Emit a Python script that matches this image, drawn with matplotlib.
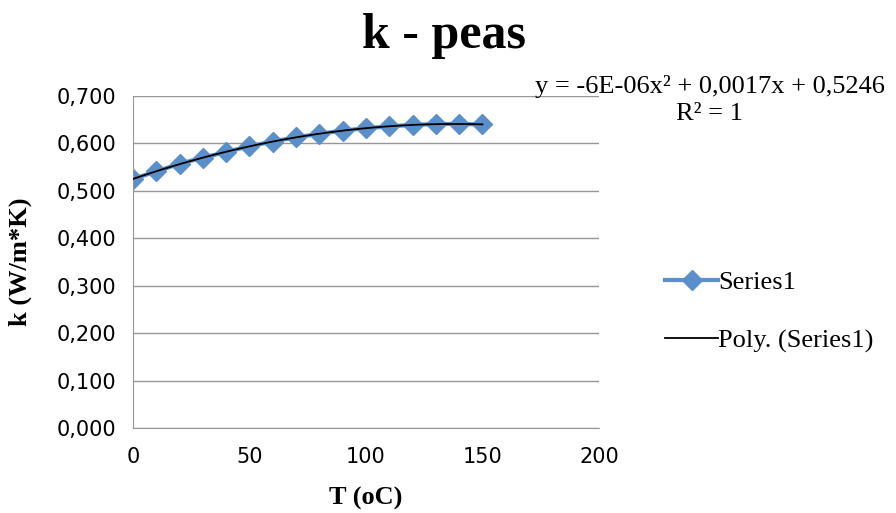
import matplotlib.pyplot as plt
import numpy as np

# temperature (oC) and thermal conductivity of peas (W/m*K)
T = [0, 10, 20, 30, 40, 50, 60, 70, 80, 90, 100, 110, 120, 130, 140, 150]
k = [0.525, 0.541, 0.557, 0.570, 0.582, 0.594, 0.604, 0.613, 0.620,
     0.627, 0.632, 0.636, 0.639, 0.641, 0.641, 0.640]
x_ticks = [0, 50, 100, 150, 200]
y_ticks = [0.0, 0.1, 0.2, 0.3, 0.4, 0.5, 0.6, 0.7]

blue = '#5b8fc9'
serif = 'Liberation Serif'

fig = plt.figure(figsize=(8.96, 5.13), dpi=100)
ax = fig.add_axes([0.1484, 0.1657, 0.52, 0.6472])

ax.plot(T, k, color=blue, lw=3, marker='D', ms=10, mec=blue, label='Series1', zorder=2)

# second order trend line
coef = np.polyfit(T, k, 2)
xs = np.linspace(T[0], T[-1], 200)
ax.plot(xs, np.polyval(coef, xs), color='black', lw=1.3, label='Poly. (Series1)', zorder=3)

ax.set_xlim(0, 200)
ax.set_ylim(0, 0.7)
ax.set_xticks(x_ticks)
ax.set_yticks(y_ticks)
ax.set_yticklabels([f'{v:.3f}'.replace('.', ',') for v in y_ticks])
ax.tick_params(axis='y', length=0, pad=12)
ax.tick_params(axis='x', length=0, pad=14)
for lab in ax.get_xticklabels() + ax.get_yticklabels():
    lab.set_fontfamily('DejaVu Sans')
    lab.set_fontsize(15)
ax.grid(axis='y', color='#969696', lw=1)
ax.set_axisbelow(True)
for s in ['top', 'right']:
    ax.spines[s].set_visible(False)
for s in ['left', 'bottom']:
    ax.spines[s].set_color('#969696')

ax.set_xlabel('T (oC)', fontfamily=serif, fontweight='bold', fontsize=19, labelpad=14)
ax.set_ylabel('k (W/m*K)', fontfamily=serif, fontweight='bold', fontsize=19, labelpad=18)
fig.text(0.495, 0.93, 'k - peas', ha='center', va='center',
         fontfamily=serif, fontweight='bold', fontsize=36)

fig.text(0.988, 0.832, 'y = -6E-06x² + 0,0017x + 0,5246', ha='right', va='center',
         fontfamily=serif, fontsize=19)
fig.text(0.755, 0.778, 'R² = 1', ha='left', va='center', fontfamily=serif, fontsize=19)

fig.legend(loc='upper left', bbox_to_anchor=(0.716, 0.518), frameon=False,
           prop={'family': serif, 'size': 19}, handlelength=2.0,
           handletextpad=0.0, labelspacing=1.3)

fig.savefig('out.png', dpi=100)
